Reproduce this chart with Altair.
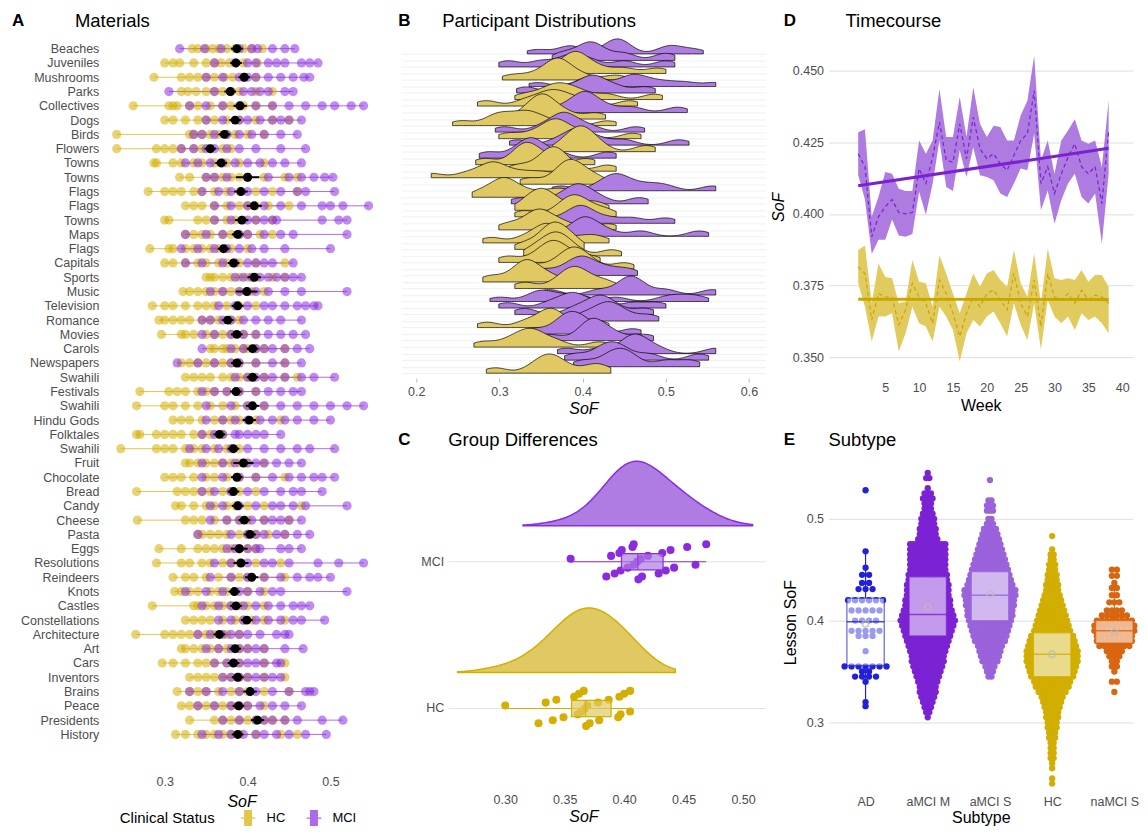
import json
import altair as alt
import pandas as pd

FONT = "Liberation Sans"
HC_COL = "#D4AF00"
MCI_COL = "#8A2BE2"
GRAY = "#4D4D4D"

# ---------------- Panel A: Materials ----------------
MATERIALS = ["Beaches", "Juveniles", "Mushrooms", "Parks", "Collectives", "Dogs", "Birds", "Flowers",
             "Towns", "Towns", "Flags", "Flags", "Towns", "Maps", "Flags", "Capitals", "Sports", "Music",
             "Television", "Romance", "Movies", "Carols", "Newspapers", "Swahili", "Festivals", "Swahili",
             "Hindu Gods", "Folktales", "Swahili", "Fruit", "Chocolate", "Bread", "Candy", "Cheese", "Pasta",
             "Eggs", "Resolutions", "Reindeers", "Knots", "Castles", "Constellations", "Architecture", "Art",
             "Cars", "Inventors", "Brains", "Peace", "Presidents", "History"]
HC_PTS = [
    [.333, .34, .35, .358, .365, .375, .385, .395, .405, .418],
    [.30, .31, .318, .335, .35, .36, .368, .378, .395, .412],
    [.287, .32, .33, .34, .35, .36, .372, .382, .395, .41],
    [.32, .328, .338, .35, .36, .37, .38, .39, .41, .43],
    [.262, .305, .31, .315, .33, .34, .355, .37, .38, .395, .41, .43],
    [.30, .31, .325, .34, .35, .36, .375, .39, .41, .43, .45],
    [.242, .33, .335, .345, .355, .365, .375, .385, .40, .42],
    [.242, .29, .30, .31, .32, .335, .345, .355, .37, .38],
    [.287, .29, .31, .32, .335, .345, .36, .375, .39, .42],
    [.318, .33, .35, .36, .37, .38, .39, .40, .42, .445, .46],
    [.28, .30, .31, .32, .335, .345, .36, .375, .39, .41, .43, .46],
    [.325, .335, .345, .36, .375, .39, .40, .41, .425, .45],
    [.30, .305, .34, .35, .36, .375, .385, .395, .41, .43],
    [.325, .335, .345, .355, .37, .38, .39, .40, .415, .43],
    [.282, .305, .31, .325, .335, .345, .355, .365, .38, .40],
    [.30, .31, .325, .34, .35, .365, .375, .39, .41, .445],
    [.35, .355, .36, .37, .38, .39, .40, .41, .43, .445],
    [.322, .33, .34, .35, .36, .37, .38, .39, .405, .42],
    [.285, .30, .31, .325, .34, .35, .36, .375, .39, .41],
    [.293, .30, .31, .32, .33, .345, .355, .365, .38, .39],
    [.296, .32, .325, .335, .35, .36, .37, .38, .395, .41],
    [.355, .36, .37, .375, .385, .395, .40, .41, .42, .445],
    [.32, .33, .34, .35, .36, .37, .38, .39, .41, .445],
    [.325, .335, .345, .355, .37, .38, .39, .40, .42, .445, .46],
    [.27, .305, .315, .325, .34, .35, .36, .375, .39, .41],
    [.266, .30, .31, .325, .34, .355, .37, .385, .40, .42],
    [.31, .32, .33, .345, .36, .37, .38, .39, .41, .44],
    [.266, .27, .29, .30, .31, .32, .335, .345, .355, .37],
    [.247, .29, .30, .31, .325, .335, .345, .36, .375, .39],
    [.325, .33, .34, .35, .36, .37, .38, .39, .40, .42],
    [.30, .31, .32, .335, .35, .36, .375, .39, .41, .445],
    [.266, .315, .325, .335, .345, .355, .37, .38, .39, .41],
    [.313, .32, .335, .35, .36, .375, .385, .40, .42, .465],
    [.267, .325, .335, .345, .36, .375, .39, .40, .42, .45],
    [.34, .345, .355, .365, .375, .39, .40, .41, .425, .445],
    [.293, .32, .34, .35, .36, .37, .38, .39, .40, .41],
    [.29, .32, .33, .345, .355, .37, .38, .39, .41, .44],
    [.31, .325, .335, .35, .365, .38, .39, .40, .42, .445],
    [.312, .32, .33, .34, .355, .365, .375, .385, .40, .42],
    [.285, .335, .34, .35, .36, .37, .38, .39, .40, .42],
    [.325, .335, .345, .355, .37, .385, .395, .405, .42, .445],
    [.265, .30, .31, .32, .33, .34, .35, .36, .375, .39],
    [.32, .325, .335, .345, .355, .365, .375, .39, .40, .42],
    [.297, .31, .325, .34, .35, .36, .375, .39, .42, .445],
    [.33, .34, .35, .36, .37, .38, .39, .40, .42, .445],
    [.315, .33, .34, .35, .365, .38, .39, .40, .42, .45],
    [.32, .33, .34, .35, .36, .37, .38, .39, .40, .42],
    [.33, .36, .37, .38, .39, .40, .41, .42, .43, .445],
    [.313, .325, .34, .35, .36, .37, .38, .39, .41, .44, .46],
]
MCI_PTS = [
    [.318, .348, .368, .39, .405, .412, .43, .445, .457],
    [.36, .385, .40, .41, .425, .435, .445, .465, .475, .485],
    [.35, .37, .39, .40, .41, .425, .44, .455, .468, .475],
    [.305, .36, .38, .395, .405, .415, .425, .445, .455],
    [.33, .35, .37, .39, .41, .43, .45, .47, .49, .505, .525, .54],
    [.35, .37, .39, .40, .415, .43, .44, .45, .465],
    [.335, .345, .36, .375, .39, .405, .42, .44, .46],
    [.32, .335, .35, .36, .375, .39, .41, .44, .47],
    [.325, .34, .355, .37, .385, .40, .415, .43, .445, .465],
    [.35, .36, .375, .40, .425, .45, .465, .48, .493, .503],
    [.345, .365, .38, .40, .42, .44, .46, .47, .505],
    [.36, .38, .40, .42, .44, .465, .49, .50, .515, .546],
    [.36, .38, .40, .41, .42, .43, .435, .49, .51, .52],
    [.325, .35, .37, .39, .40, .42, .44, .455, .52],
    [.32, .34, .36, .375, .39, .405, .42, .445, .50],
    [.325, .345, .37, .385, .40, .41, .42, .43, .455],
    [.385, .395, .405, .415, .425, .435, .445, .455, .465],
    [.355, .37, .39, .40, .41, .425, .445, .465, .52],
    [.365, .385, .40, .42, .43, .445, .46, .47, .48, .485],
    [.345, .355, .37, .38, .395, .41, .425, .44, .465],
    [.345, .36, .38, .395, .41, .425, .44, .455, .47],
    [.345, .38, .395, .41, .42, .43, .445, .46, .475],
    [.315, .34, .36, .38, .39, .41, .43, .445, .465],
    [.385, .40, .41, .42, .43, .445, .465, .48, .505],
    [.345, .36, .375, .39, .41, .425, .44, .455, .465],
    [.35, .38, .40, .42, .44, .46, .48, .50, .52, .54],
    [.35, .37, .385, .40, .415, .43, .445, .46, .48, .50],
    [.345, .36, .37, .385, .39, .40, .41, .42, .44],
    [.33, .35, .365, .38, .40, .42, .44, .46, .475, .505],
    [.345, .37, .385, .40, .41, .42, .435, .45, .465],
    [.345, .37, .39, .41, .43, .45, .465, .48, .49, .505],
    [.345, .36, .38, .40, .42, .44, .455, .465, .49],
    [.355, .37, .39, .41, .43, .44, .455, .47, .52],
    [.355, .375, .39, .405, .42, .43, .44, .45, .465],
    [.34, .38, .40, .41, .42, .435, .445, .46, .475],
    [.375, .385, .39, .40, .41, .415, .44, .45, .465],
    [.36, .38, .40, .42, .43, .45, .485, .51, .54],
    [.355, .38, .40, .42, .44, .46, .475, .485, .50],
    [.325, .35, .37, .39, .40, .415, .43, .44, .52],
    [.345, .365, .38, .395, .41, .425, .44, .455, .465, .475],
    [.365, .38, .395, .41, .425, .44, .455, .465, .493],
    [.34, .355, .37, .38, .39, .40, .415, .435, .445, .45],
    [.35, .365, .38, .39, .40, .41, .42, .445, .467],
    [.36, .375, .39, .40, .41, .42, .435, .44],
    [.37, .38, .39, .40, .41, .42, .43, .44],
    [.33, .35, .37, .39, .41, .43, .45, .47, .475, .48],
    [.34, .36, .38, .39, .40, .415, .43, .445, .465],
    [.37, .39, .41, .42, .43, .445, .46, .49, .515],
    [.345, .365, .38, .395, .41, .42, .435, .45, .47, .495],
]
MAT_MEAN = [.387, .386, .396, .379, .391, .385, .372, .355, .368, .400, .392, .408, .393, .388, .371, .383,
            .408, .399, .388, .376, .387, .406, .387, .406, .386, .406, .402, .366, .383, .395, .387, .383,
            .388, .396, .403, .390, .392, .405, .384, .386, .399, .366, .385, .383, .388, .403, .389, .412, .388]
MAT_ERR = [.007, .007, .007, .007, .008, .007, .007, .007, .007, .014, .008, .009, .008, .007, .007, .007,
           .008, .013, .007, .007, .007, .007, .007, .007, .007, .008, .008, .007, .007, .012, .007, .007,
           .007, .007, .007, .010, .009, .008, .007, .007, .007, .007, .007, .007, .007, .008, .007, .008, .007]

rowsA = []
for i in range(len(MATERIALS)):
    for v in HC_PTS[i]:
        rowsA.append({"row": i + 1, "grp": "HC", "v": v})
    for v in MCI_PTS[i]:
        rowsA.append({"row": i + 1, "grp": "MCI", "v": v})
dfA = pd.DataFrame(rowsA)
dfAm = pd.DataFrame({"row": list(range(1, len(MATERIALS) + 1)), "mean": MAT_MEAN, "err": MAT_ERR})
dfAm["lo"] = dfAm["mean"] - dfAm["err"]
dfAm["hi"] = dfAm["mean"] + dfAm["err"]


def tag_and_title(tag, title, tx, nx, ty):
    d = pd.DataFrame({"t": [tag], "n": [title]})
    t1 = alt.Chart(d).mark_text(fontSize=17, fontWeight="bold", align="left", baseline="middle",
                                color="black", font=FONT).encode(text="t:N", x=alt.value(tx), y=alt.value(ty))
    t2 = alt.Chart(d).mark_text(fontSize=18.5, align="left", baseline="middle",
                                color="black", font=FONT).encode(text="n:N", x=alt.value(nx), y=alt.value(ty))
    return [t1, t2]


labA = json.dumps(MATERIALS)
xAs = alt.Scale(domain=[0.2265, 0.559], nice=False, zero=False)
xA = alt.X("v:Q", scale=xAs,
           axis=alt.Axis(values=[0.3, 0.4, 0.5], format=".1f", title="SoF", grid=False, ticks=False,
                         domain=False, titleFontStyle="italic", labelPadding=4, titlePadding=6, offset=24))
yAs = alt.Scale(type="point", padding=0.91)
yA = alt.Y("row:O", scale=yAs, sort="ascending",
           axis=alt.Axis(labelExpr=f"{labA}[datum.value-1]", title=None, grid=False, ticks=False,
                         domain=False, labelPadding=5, labelOverlap=False, labelFontSize=12.5))
colA = alt.Color("grp:N", scale=alt.Scale(domain=["HC", "MCI"], range=[HC_COL, MCI_COL]), legend=None)
strokeA = alt.Stroke("grp:N", scale=alt.Scale(domain=["HC", "MCI"], range=[HC_COL, MCI_COL]),
                     legend=alt.Legend(title="Clinical Status", orient="none", legendX=16, legendY=775,
                                       direction="horizontal", titleOrient="left", titleFontSize=15,
                                       titleFontWeight="normal", titleColor="black", labelFontSize=13,
                                       labelColor="black",
                                       symbolType="M-0.45,-1H0.45V1H-0.45Z M0,-1V1 M-1,0H-0.45 M0.45,0H1",
                                       symbolSize=220, symbolStrokeWidth=1.3, symbolFillColor="#F1EEE4",
                                       symbolOpacity=0.7, columnPadding=18, titlePadding=24,
                                       labelOffset=10))

baseA = alt.Chart(dfA)
rangeA = baseA.transform_aggregate(mn="min(v)", mx="max(v)", groupby=["row", "grp"]).mark_rule(
    strokeWidth=1, opacity=0.7).encode(x=alt.X("mn:Q", scale=xAs), x2="mx:Q", y=yA, stroke=strokeA)
ptsA = baseA.mark_circle(size=85, opacity=0.55).encode(x=xA, y=yA, color=colA)
errA = alt.Chart(dfAm).mark_rule(color="black", strokeWidth=2).encode(x="lo:Q", x2="hi:Q", y=yA)
meanA = alt.Chart(dfAm).mark_circle(size=80, color="black", opacity=1).encode(x="mean:Q", y=yA)
panelA = alt.layer(rangeA, ptsA, errA, meanA, *tag_and_title("A", "Materials", -92, -29, -15)).properties(
    width=276, height=713)

# ---------------- Panel B: Participant distributions ----------------
B_GROUP = ["MCI", "MCI", "MCI", "HC", "HC", "MCI", "MCI", "HC", "HC", "MCI",
           "HC", "HC", "MCI", "HC", "MCI", "HC", "MCI", "HC", "HC", "HC",
           "HC", "MCI", "HC", "MCI", "HC", "HC", "MCI", "HC", "MCI", "HC",
           "HC", "HC", "HC", "HC", "MCI", "HC", "HC", "MCI", "MCI", "MCI",
           "MCI", "MCI", "HC", "MCI", "MCI", "HC", "MCI", "MCI", "MCI", "HC"]
B_SAMPLES = [
    [.345, .38, .39, .43, .44, .445, .45, .50, .51, .535],
    [.375, .40, .41, .42, .45, .50],
    [.31, .35, .38, .39, .41, .45, .50],
    [.37, .385, .39, .395, .40, .42, .45, .49],
    [.314, .34, .36, .365, .37, .375, .38, .40, .44],
    [.346, .40, .41, .42, .45, .46, .465, .48, .50, .525, .56],
    [.332, .38, .405, .41, .42, .44, .476],
    [.33, .355, .365, .375, .385, .40, .43, .486],
    [.284, .33, .35, .36, .37, .38, .40, .456],
    [.374, .395, .40, .405, .41, .43, .46, .514],
    [.33, .345, .35, .355, .36, .38, .416],
    [.254, .29, .30, .31, .325, .335, .34, .36, .43],
    [.306, .35, .37, .375, .38, .39, .41, .464],
    [.31, .34, .36, .365, .37, .38, .40, .46],
    [.322, .37, .39, .395, .40, .42, .45, .516],
    [.374, .39, .395, .40, .405, .42, .476],
    [.286, .32, .335, .34, .345, .37, .43],
    [.282, .32, .33, .335, .34, .36, .404],
    [.322, .35, .36, .365, .37, .38, .43],
    [.218, .26, .28, .29, .295, .30, .32, .34, .362, .40],
    [.336, .37, .38, .385, .39, .40, .418],
    [.374, .42, .435, .44, .445, .46, .48, .50, .556],
    [.278, .30, .305, .31, .33, .36, .382],
    [.326, .37, .39, .395, .40, .42, .468],
    [.33, .345, .35, .355, .37, .40, .42],
    [.33, .37, .385, .39, .395, .41, .43],
    [.35, .38, .395, .40, .405, .43, .46, .50],
    [.31, .335, .345, .35, .36, .38, .43],
    [.36, .39, .40, .405, .41, .43, .47, .54],
    [.29, .33, .35, .355, .36, .37, .40, .42],
    [.33, .355, .36, .365, .37, .38, .39],
    [.34, .355, .365, .37, .375, .39, .435],
    [.31, .345, .36, .365, .37, .385, .41],
    [.335, .37, .385, .39, .395, .41, .45],
    [.35, .38, .395, .40, .41, .43, .455],
    [.29, .32, .33, .335, .34, .36, .40],
    [.33, .37, .385, .39, .395, .41, .43],
    [.36, .42, .45, .455, .46, .47, .50, .556],
    [.30, .34, .35, .36, .38, .40, .44, .50, .52, .54],
    [.31, .36, .38, .39, .395, .42, .46, .49],
    [.33, .39, .41, .42, .425, .44, .475],
    [.35, .40, .42, .43, .435, .45, .48],
    [.285, .33, .35, .36, .365, .37, .40, .42],
    [.34, .37, .38, .385, .39, .40, .41, .46],
    [.36, .40, .41, .415, .42, .44, .475],
    [.28, .31, .325, .335, .34, .35, .37, .42],
    [.38, .42, .45, .46, .465, .47, .49, .56],
    [.39, .42, .43, .44, .45, .48, .54],
    [.40, .43, .44, .45, .46, .50, .53],
    [.295, .34, .355, .36, .365, .38, .41, .424],
]
NB = len(B_SAMPLES)
rowsB = []
for i, vals in enumerate(B_SAMPLES):
    for v in vals:
        rowsB.append({"pid": i + 1, "base": NB + 1 - (i + 1), "bgrp": B_GROUP[i], "v": v})
dfB = pd.DataFrame(rowsB)

ridges = alt.Chart(dfB).transform_joinaggregate(
    mn="min(v)", mx="max(v)", groupby=["pid"]
).transform_density(
    "v", groupby=["pid", "base", "bgrp", "mn", "mx"], as_=["v", "dens"], bandwidth=0.014, steps=160
).transform_filter(
    "datum.v >= datum.mn - 0.012 && datum.v <= datum.mx + 0.012"
).transform_joinaggregate(maxd="max(dens)").transform_calculate(
    ytop="datum.base + datum.dens / datum.maxd * 4.2"
).mark_area(stroke="black", strokeWidth=0.7, opacity=1, interpolate="monotone", clip=True).encode(
    x=alt.X("v:Q", scale=alt.Scale(domain=[0.182, 0.62], nice=False, zero=False),
            axis=alt.Axis(values=[0.2, 0.3, 0.4, 0.5, 0.6], format=".1f", title="SoF", grid=False,
                          ticks=True, tickSize=4, tickColor="#BBBBBB", domain=False,
                          titleFontStyle="italic", labelPadding=3, titlePadding=3)),
    y=alt.Y("ytop:Q", stack=None, scale=alt.Scale(domain=[0.25, 52.8], nice=False, zero=False),
            axis=alt.Axis(values=list(range(1, NB + 1)), labels=False, ticks=False, domain=False,
                          title=None, grid=True, gridColor="#F0F0F0")),
    y2="base:Q",
    color=alt.Color("bgrp:N", scale=alt.Scale(domain=["HC", "MCI"], range=["#E0C962", "#AF7CE1"]),
                    legend=None),
    detail="pid:N",
)
panelB = alt.layer(ridges, *tag_and_title("B", "Participant Distributions", -3, 41, -15)).properties(
    width=365, height=343)

# ---------------- Panel C: Group differences ----------------
C_MCI = [.355, .385, .389, .392, .396, .397, .398, .403, .407, .408, .408, .411, .412, .414, .415, .42,
         .429, .432, .435, .439, .442, .453, .46, .469]
C_HC = [.30, .328, .334, .34, .343, .349, .358, .361, .362, .364, .366, .367, .368, .369, .371, .378,
        .379, .387, .395, .396, .397, .40, .405, .405]
C_LABELS = ["HC", "MCI"]
rowsC = [{"cgrp": "MCI", "row": 2, "v": v} for v in C_MCI] + [{"cgrp": "HC", "row": 1, "v": v} for v in C_HC]
dfC = pd.DataFrame(rowsC)
dfCl = pd.DataFrame({"lab": C_LABELS, "row": [1, 2]})

xCs = alt.Scale(domain=[0.2126, 0.519], nice=False, zero=False)
xC = alt.X("v:Q", scale=xCs,
           axis=alt.Axis(values=[0.30, 0.35, 0.40, 0.45, 0.50], format=".2f", title="SoF", grid=False,
                         ticks=False, domain=False, titleFontStyle="italic", labelPadding=4, titlePadding=3))
yCs = alt.Scale(domain=[0.449, 2.728], nice=False, zero=False)
yCaxis = alt.Axis(labels=False, ticks=False, domain=False, grid=False, title=None)
colC = alt.Color("cgrp:N", scale=alt.Scale(domain=["HC", "MCI"], range=[HC_COL, MCI_COL]), legend=None)
fillC = alt.Fill("cgrp:N", scale=alt.Scale(domain=["HC", "MCI"], range=["#E0C962", "#AF7CE1"]), legend=None)
strokeC = alt.Stroke("cgrp:N", scale=alt.Scale(domain=["HC", "MCI"], range=[HC_COL, MCI_COL]), legend=None)

gridC = alt.Chart(dfCl).mark_rule(color="#E3E3E3", strokeWidth=1).encode(
    x=alt.value(47), x2=alt.value(365), y=alt.Y("row:Q", scale=yCs, axis=yCaxis))
labC = alt.Chart(dfCl).mark_text(align="right", baseline="middle", fontSize=12.5, color=GRAY, font=FONT).encode(
    text="lab:N", x=alt.value(43), y=alt.Y("row:Q", scale=yCs))


def density_layer(grp, extent):
    return alt.Chart(dfC).transform_filter(alt.datum.cgrp == grp).transform_density(
        "v", groupby=["cgrp", "row"], as_=["v", "dens"], bandwidth=0.021, extent=extent, steps=150
    ).transform_joinaggregate(maxd="max(dens)").transform_calculate(
        base="datum.row + 0.245", top="datum.row + 0.245 + datum.dens / datum.maxd * 0.44"
    ).mark_area(strokeWidth=1.5, opacity=1).encode(
        x=xC, y=alt.Y("top:Q", stack=None, scale=yCs, axis=yCaxis),
        y2="base:Q", fill=fillC, stroke=strokeC)


densMCI = density_layer("MCI", [0.315, 0.508])
densHC = density_layer("HC", [0.26, 0.443])
boxC = alt.Chart(dfC).transform_aggregate(
    q1="q1(v)", med="median(v)", q3="q3(v)", mn="min(v)", mx="max(v)", groupby=["cgrp", "row"]
).transform_calculate(ylo="datum.row - 0.055", yhi="datum.row + 0.055")
whiskC = boxC.mark_rule(strokeWidth=1.2).encode(x=alt.X("mn:Q", scale=xCs), x2="mx:Q",
                                                y=alt.Y("row:Q", scale=yCs), color=colC)
rectC = boxC.mark_rect(fillOpacity=0.7, strokeWidth=1.2).encode(
    x=alt.X("q1:Q", scale=xCs), x2="q3:Q", y=alt.Y("ylo:Q", scale=yCs), y2="yhi:Q", fill=colC, stroke=strokeC)
medC = boxC.mark_rule(strokeWidth=1.2, opacity=0.8).encode(
    x=alt.X("med:Q", scale=xCs), y=alt.Y("ylo:Q", scale=yCs), y2="yhi:Q", color=colC)
ptsC = alt.Chart(dfC).transform_window(rn="row_number()", groupby=["cgrp"]).transform_calculate(
    jy="datum.row + ((datum.rn * 7) % 13 - 6) / 6 * 0.12"
).mark_circle(size=65, opacity=1).encode(x=alt.X("v:Q", scale=xCs), y=alt.Y("jy:Q", scale=yCs), color=colC)
panelC = alt.layer(gridC, labC, densMCI, densHC, whiskC, ptsC, rectC, medC,
                   *tag_and_title("C", "Group Differences", -3, 47, -15)).properties(width=365, height=335)

# ---------------- Panel D: Timecourse ----------------
WEEKS = list(range(1, 39))
MCI_MEAN = [.421, .4165, .392, .399, .4025, .405, .4005, .400, .4005, .4158, .4106, .4198, .432, .4187, .418,
            .4314, .4193, .4337, .4227, .4193, .421, .4175, .4152, .4204, .4256, .428, .443, .4106, .4165,
            .4071, .414, .4198, .4245, .4165, .414, .4165, .4036, .4291]
MCI_HI = [.4285, .4295, .399, .406, .4146, .414, .4088, .408, .408, .4256, .421, .4256, .4436, .4268, .4268,
          .4408, .4268, .4442, .4314, .4268, .4308, .4303, .4256, .4256, .4343, .4396, .4552, .4187, .4256,
          .414, .4256, .4291, .433, .4256, .4245, .4256, .4164, .4396]
MCI_LO = [.4135, .405, .386, .391, .391, .398, .3925, .392, .393, .4077, .3997, .4106, .4256, .4094, .408,
          .4222, .4129, .4233, .4135, .4129, .4117, .4071, .4059, .4106, .4158, .4152, .428, .4013, .4082,
          .3966, .4048, .4106, .414, .4059, .4036, .4071, .3896, .414]
HC_MEAN = [.3816, .3792, .363, .3722, .371, .371, .3613, .3665, .3758, .371, .3688, .3618, .3769, .3722,
           .3653, .3572, .3653, .371, .3676, .3722, .3734, .370, .3665, .3792, .3688, .3642, .3769, .3607,
           .3792, .371, .370, .3722, .3688, .3734, .370, .3716, .371, .3688]
HC_HI = [.3874, .389, .3688, .3827, .378, .3775, .3688, .3694, .3839, .3763, .3758, .3676, .3856, .3792,
         .3722, .3653, .3722, .3792, .3746, .3792, .3804, .3769, .3746, .3874, .3758, .3711, .3862, .3688,
         .3879, .3775, .3769, .3775, .3769, .3804, .3763, .3787, .3787, .3746]
HC_LO = [.3758, .3676, .3555, .3642, .3642, .3653, .352, .3583, .3676, .3618, .3607, .3555, .3676, .3642,
         .3595, .3485, .3583, .363, .3607, .3642, .3659, .3618, .3572, .3688, .3613, .356, .3688, .3526,
         .370, .3642, .3618, .3642, .3595, .3653, .363, .3642, .3618, .3583]
dfD = pd.concat([
    pd.DataFrame({"week": WEEKS, "dgrp": "MCI", "m": MCI_MEAN, "lo": MCI_LO, "hi": MCI_HI}),
    pd.DataFrame({"week": WEEKS, "dgrp": "HC", "m": HC_MEAN, "lo": HC_LO, "hi": HC_HI}),
], ignore_index=True)
xDs = alt.Scale(domain=[-3.38, 41.6], nice=False, zero=False)
yDs = alt.Scale(domain=[0.3427, 0.4622], nice=False, zero=False)
bandD = alt.Chart(dfD).mark_area(opacity=1).encode(
    x=alt.X("week:Q", scale=xDs, axis=alt.Axis(values=[5, 10, 15, 20, 25, 30, 35, 40], title="Week",
                                               grid=False, ticks=False, domain=False, labelPadding=3,
                                               titlePadding=4)),
    y=alt.Y("lo:Q", scale=yDs, axis=alt.Axis(values=[0.35, 0.375, 0.40, 0.425, 0.45], format=".3f",
                                             title="SoF", titleFontStyle="italic", grid=True,
                                             gridColor="#DEDEDE", ticks=False, domain=False,
                                             labelPadding=5, titlePadding=6)),
    y2="hi:Q",
    color=alt.Color("dgrp:N", scale=alt.Scale(domain=["HC", "MCI"], range=["#E2CB5E", "#AE7BE0"]), legend=None),
)
lineD = alt.Chart(dfD).mark_line(strokeWidth=1.2, strokeDash=[4, 3]).encode(
    x=alt.X("week:Q", scale=xDs), y=alt.Y("m:Q", scale=yDs),
    stroke=alt.Stroke("dgrp:N", scale=alt.Scale(domain=["HC", "MCI"], range=["#C9A500", "#7A22D0"]), legend=None))
regD = alt.Chart(dfD).transform_regression("week", "m", groupby=["dgrp"]).mark_line(strokeWidth=3).encode(
    x=alt.X("week:Q", scale=xDs), y=alt.Y("m:Q", scale=yDs),
    stroke=alt.Stroke("dgrp:N", scale=alt.Scale(domain=["HC", "MCI"], range=["#C9A500", "#7A22D0"]), legend=None))
panelD = alt.layer(bandD, lineD, regD, *tag_and_title("D", "Timecourse", -45, 17, -15)).properties(
    width=305, height=343)

# ---------------- Panel E: Subtype ----------------
SUBTYPES = ["AD", "aMCI M", "aMCI S", "HC", "naMCI S"]
SUB_COLS = ["#2121D9", "#7B22D3", "#9A62DB", "#D1AE00", "#D9650F"]
AD_V = [.528, .468, .452, .445, .437, .431, .42, .41, .40, .39, .385, .37, .355, .35, .345, .34, .32, .316]
AD_N = [1, 1, 1, 2, 2, 3, 6, 5, 4, 5, 3, 1, 7, 2, 4, 1, 1, 1]
AM_V = [.545, .540, .530, .525, .520, .515, .510, .505, .500, .495, .490, .485, .480, .475, .470, .465, .460,
        .455, .450, .445, .440, .435, .430, .425, .420, .415, .410, .405, .400, .395, .390, .385, .380, .375,
        .370, .365, .360, .355, .350, .345, .340, .335, .330, .325, .320, .315, .310, .305]
AM_N = [1, 2, 1, 3, 4, 3, 3, 4, 5, 5, 6, 6, 7, 12, 12, 12, 12, 12, 12, 13, 13, 14, 14, 14, 15, 15, 16, 17, 18,
        17, 16, 15, 14, 13, 12, 11, 11, 10, 9, 8, 7, 6, 6, 5, 4, 3, 2, 1]
AS_V = [.538, .518, .513, .508, .500, .495, .490, .485, .480, .475, .470, .465, .460, .455, .450, .445, .440,
        .435, .430, .425, .420, .415, .410, .405, .400, .395, .390, .385, .380, .375, .370, .365, .360, .355,
        .350, .345]
AS_N = [1, 2, 3, 3, 2, 3, 5, 6, 7, 8, 9, 10, 11, 12, 13, 14, 15, 16, 18, 18, 17, 17, 16, 16, 15, 14, 13, 12,
        11, 9, 8, 7, 6, 4, 3, 2]
HC_V = [.483, .470, .465, .460, .455, .450, .445, .440, .435, .430, .425, .420, .415, .410, .405, .400, .395,
        .390, .385, .380, .375, .370, .365, .360, .355, .350, .345, .340, .335, .330, .325, .320, .315, .310,
        .305, .300, .295, .290, .285, .280, .275, .270, .265, .260, .255, .245, .240]
HC_N = [1, 1, 2, 2, 3, 3, 4, 4, 5, 5, 6, 7, 8, 9, 10, 11, 12, 13, 15, 16, 17, 18, 18, 18, 17, 16, 15, 13, 12,
        10, 8, 7, 6, 5, 5, 4, 4, 3, 3, 2, 2, 2, 2, 1, 1, 1, 1]
NA_V = [.45, .444, .437, .432, .425, .418, .41, .405, .40, .395, .39, .385, .38, .375, .37, .365, .36, .355,
        .35, .34, .33]
NA_N = [2, 2, 1, 2, 2, 3, 4, 6, 8, 9, 9, 8, 8, 7, 4, 3, 2, 2, 1, 2, 1]
E_SPACING_PX = [7.0, 3.2, 3.0, 3.0, 5.0]

E_Q1 = [.356, .385, .400, .345, .378]
E_MED = [.399, .406, .425, .367, .390]
E_Q3 = [.422, .443, .448, .388, .400]
E_WLO = [.318, .305, .345, .280, .355]
E_WHI = [.468, .510, .500, .450, .430]
E_MEAN = [.397, .413, .426, .367, .389]

rowsE = []
for si, (vals, cnts) in enumerate([(AD_V, AD_N), (AM_V, AM_N), (AS_V, AS_N), (HC_V, HC_N), (NA_V, NA_N)]):
    for v, n in zip(vals, cnts):
        for _ in range(n):
            rowsE.append({"sub": SUBTYPES[si], "xi": si + 1, "v": v, "sp": E_SPACING_PX[si] / 62.25})
dfE = pd.DataFrame(rowsE)
dfEb = pd.DataFrame({"sub": SUBTYPES, "xi": [1, 2, 3, 4, 5], "q1": E_Q1, "med": E_MED, "q3": E_Q3,
                     "wlo": E_WLO, "whi": E_WHI, "mean": E_MEAN})
dfEb["bl"] = dfEb["xi"] - 0.3
dfEb["br"] = dfEb["xi"] + 0.3

xEs = alt.Scale(domain=[0.405, 5.3], nice=False, zero=False)
yEs = alt.Scale(domain=[0.2343, 0.5627], nice=False, zero=False)
colE = alt.Color("sub:N", scale=alt.Scale(domain=SUBTYPES, range=SUB_COLS), legend=None)
strokeE = alt.Stroke("sub:N", scale=alt.Scale(domain=SUBTYPES, range=SUB_COLS), legend=None)
labE = json.dumps(SUBTYPES)
swarm = alt.Chart(dfE).transform_window(
    k="row_number()", groupby=["sub", "v"]
).transform_joinaggregate(n="count()", groupby=["sub", "v"]).transform_calculate(
    xx="datum.xi + (datum.k - (datum.n + 1) / 2) * datum.sp"
).mark_circle(size=40, opacity=1).encode(
    x=alt.X("xx:Q", scale=xEs, axis=alt.Axis(values=[1, 2, 3, 4, 5], labelExpr=f"{labE}[datum.value-1]",
                                             title="Subtype", grid=False, ticks=False, domain=False,
                                             labelPadding=6, titlePadding=2)),
    y=alt.Y("v:Q", scale=yEs, axis=alt.Axis(values=[0.3, 0.4, 0.5], format=".1f", title="Lesson SoF",
                                            grid=True, gridColor="#DEDEDE", ticks=False, domain=False,
                                            labelPadding=5, titlePadding=8)),
    color=colE)
whiskE1 = alt.Chart(dfEb).mark_rule(strokeWidth=1.2).encode(
    x=alt.X("xi:Q", scale=xEs), y=alt.Y("wlo:Q", scale=yEs), y2="q1:Q", color=colE)
whiskE2 = alt.Chart(dfEb).mark_rule(strokeWidth=1.2).encode(
    x=alt.X("xi:Q", scale=xEs), y=alt.Y("q3:Q", scale=yEs), y2="whi:Q", color=colE)
boxE = alt.Chart(dfEb).mark_rect(fill="white", fillOpacity=0.55, strokeOpacity=0.7, strokeWidth=1.2).encode(
    x=alt.X("bl:Q", scale=xEs), x2="br:Q", y=alt.Y("q1:Q", scale=yEs), y2="q3:Q", stroke=strokeE)
medE = alt.Chart(dfEb).mark_rule(strokeWidth=1.5, opacity=0.8).encode(
    x=alt.X("bl:Q", scale=xEs), x2="br:Q", y=alt.Y("med:Q", scale=yEs), color=colE)
meanE = alt.Chart(dfEb).mark_point(shape="circle", filled=False, size=40, strokeWidth=1.8, color="#BDBDBD").encode(
    x=alt.X("xi:Q", scale=xEs), y=alt.Y("mean:Q", scale=yEs))
panelE = alt.layer(swarm, whiskE1, whiskE2, boxE, medE, meanE,
                   *tag_and_title("E", "Subtype", -45, 0, -15)).properties(width=305, height=335)

# ---------------- Assemble ----------------
RES = dict(color="independent", fill="independent", stroke="independent", x="independent", y="independent")
col2 = alt.vconcat(panelB, panelC, spacing=14).resolve_scale(**RES)
col3 = alt.vconcat(panelD, panelE, spacing=17).resolve_scale(**RES)
right = alt.hconcat(col2, col3, spacing=3).resolve_scale(**RES)
chart = alt.hconcat(panelA, right, spacing=19).resolve_scale(**RES).properties(
    padding={"left": 4, "top": 3, "right": 0, "bottom": 0}
).configure(font=FONT).configure_view(stroke=None).configure_axis(
    labelColor=GRAY, labelFontSize=12.5, titleFontSize=16, titleFontWeight="normal", titleColor="black",
    labelFont=FONT, titleFont=FONT
)

chart.save("out.html", embed_options={"renderer": "svg", "actions": False})
